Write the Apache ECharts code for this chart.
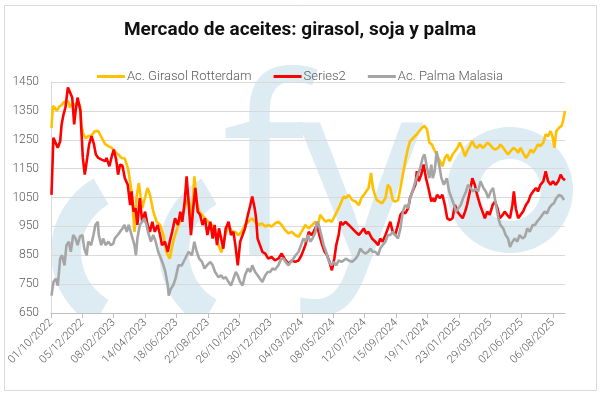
<!DOCTYPE html>
<html><head><meta charset="utf-8">
<script src="https://cdn.jsdelivr.net/npm/echarts@6/dist/echarts.min.js"></script>
<style>html,body{margin:0;padding:0;background:#fff}#c{width:600px;height:394px}</style>
</head><body><div id="c"></div>
<script>
// Day offsets counted from 01/10/2022
const startDate = Date.UTC(2022, 9, 1);
const seriesNames = ['Ac. Girasol Rotterdam', 'Series2', 'Ac. Palma Malasia'];
const titleText = 'Mercado de aceites: girasol, soja y palma';

const girasolDays = [1,4,8,12,17,22,26,30,36,39,44,50,55,60,63,67,72,77,84,91,98,105,112,119,126,132,139,146,153,160,167,173,177,182,189,195,200,205,212,219,226,233,239,246,253,257,264,271,278,285,292,297,302,307,313,319,326,333,340,347,353,361,368,375,382,388,395,402,409,416,423,430,437,444,451,457,464,471,478,485,492,499,506,513,519,527,534,541,548,553,558,563,569,575,582,589,596,602,606,611,617,624,631,638,643,648,653,658,663,667,671,675,680,686,693,698,703,708,713,719,724,729,734,740,744,751,758,763,769,774,779,784,789,792,799,806,811,816,821,826,832,837,842,847,852,858,862,868,873,878,883,889,894,899,904,909,915,920,927,931,937,942,947,952,958,963,968,973,978,984,989,994,999,1005,1009,1014,1020,1025,1030,1035,1039,1043,1047,1053,1058,1061,1065];
const girasolValues = [1290,1367,1360,1350,1365,1370,1380,1383,1383,1362,1375,1370,1380,1370,1300,1270,1255,1262,1265,1280,1280,1257,1235,1228,1222,1210,1200,1187,1185,1147,1070,931,1048,1100,1013,1050,1083,1060,1001,966,955,920,862,838,896,920,955,978,1020,1048,978,1123,1036,1001,990,978,966,955,920,885,860,920,955,931,931,920,931,955,966,978,966,955,960,949,955,949,960,966,955,937,926,931,920,914,931,955,943,955,966,955,990,978,966,972,966,990,1013,1036,1053,1048,1059,1041,1036,1024,1048,1059,1071,1083,1135,1083,1059,1041,1036,1030,1048,1094,1083,1041,1036,1040,1083,1129,1176,1222,1245,1257,1269,1280,1292,1298,1286,1240,1234,1222,1199,1176,1158,1187,1199,1176,1199,1210,1222,1240,1222,1193,1210,1228,1245,1228,1222,1234,1222,1228,1240,1234,1222,1216,1222,1234,1222,1210,1199,1210,1222,1216,1205,1222,1205,1187,1199,1216,1205,1222,1234,1228,1240,1269,1262,1280,1262,1222,1280,1292,1298,1315,1350];

const sojaDays = [1,5,8,14,19,22,26,30,35,37,41,44,48,51,55,58,61,63,66,70,75,79,84,89,93,98,105,112,115,121,126,130,135,139,143,148,153,159,164,167,171,175,179,184,189,195,200,205,210,215,221,226,230,236,242,246,251,257,263,268,272,277,281,285,290,294,299,304,309,314,319,324,330,335,339,344,348,357,362,368,373,378,382,387,392,397,402,408,413,417,422,425,428,433,438,444,450,457,464,471,478,485,492,499,506,513,519,527,534,540,544,551,556,562,567,572,577,582,587,591,596,600,604,610,617,624,631,638,643,648,653,658,665,672,678,682,687,693,698,703,708,713,719,724,729,734,740,744,749,755,758,762,767,772,777,782,788,791,795,800,806,811,816,821,827,832,837,842,847,853,858,862,868,873,878,883,889,894,899,904,909,915,920,925,930,936,940,945,951,956,959,963,968,973,978,984,989,994,999,1005,1009,1014,1020,1025,1030,1035,1040,1046,1051,1056,1060,1065];
const sojaValues = [1059,1257,1251,1222,1245,1303,1338,1362,1431,1437,1408,1396,1303,1350,1396,1390,1350,1280,1187,1129,1187,1234,1263,1234,1199,1187,1181,1176,1187,1158,1193,1216,1181,1129,1164,1160,1117,1094,1024,1071,1001,1013,955,1048,966,1001,955,931,966,931,955,920,885,897,862,897,931,978,955,1001,966,1036,1123,1036,920,1001,1083,1001,990,955,978,920,966,908,955,885,943,873,943,966,920,931,885,815,897,920,943,990,1024,1053,1013,978,908,885,862,856,838,844,832,838,856,835,821,832,827,832,850,885,931,920,931,955,920,885,862,850,827,798,838,885,920,966,955,966,955,943,931,920,931,943,925,931,908,897,885,908,897,920,943,966,931,920,955,990,1001,995,1013,1048,1071,1094,1141,1106,1129,1164,1117,1083,1036,1048,1036,1059,1048,1059,1024,978,972,978,1024,1001,990,978,1001,1024,1071,1117,1094,1059,1024,1001,978,1001,990,1024,1036,1013,978,990,1001,990,978,1024,1071,1013,978,990,1001,1024,1036,1059,1071,1083,1071,1094,1106,1141,1106,1094,1106,1094,1106,1129,1117,1110];

const palmaDays = [1,5,10,14,19,23,28,32,37,41,46,51,55,60,65,69,74,77,83,88,92,97,99,104,108,113,119,124,129,132,138,143,148,152,157,161,167,173,176,179,184,189,193,198,201,207,212,217,222,228,233,237,242,244,248,253,258,264,271,278,285,292,297,302,307,313,318,323,330,335,340,347,353,357,362,368,373,378,383,387,392,397,402,408,413,417,423,428,433,438,444,449,454,459,464,471,477,482,486,492,497,502,507,513,518,523,527,533,537,542,548,551,555,560,565,570,575,581,586,591,596,602,606,611,617,624,631,636,641,646,651,657,662,666,672,678,682,687,693,698,703,708,713,719,724,729,734,740,744,749,755,760,765,770,774,779,784,788,791,795,799,804,809,814,820,825,830,835,839,844,849,854,860,864,869,875,880,885,890,896,901,906,911,916,922,927,931,937,942,947,951,956,961,966,971,977,982,987,992,998,1003,1007,1013,1018,1023,1028,1032,1037,1042,1047,1053,1058,1063];
const palmaValues = [710,757,769,745,838,850,815,885,897,862,920,908,885,915,920,873,850,897,885,920,955,966,920,885,908,885,897,885,890,908,920,931,943,955,931,955,920,885,850,908,955,966,978,955,931,897,920,897,862,838,815,792,745,710,733,745,769,815,815,838,862,850,897,862,838,827,804,815,827,815,792,774,780,769,774,757,745,769,792,780,757,745,781,804,792,815,792,781,769,757,781,792,792,804,800,815,838,838,827,815,827,838,850,862,885,908,897,920,897,908,931,966,955,920,885,862,832,815,827,815,832,827,832,838,832,827,838,850,873,862,856,862,873,862,862,850,873,885,897,920,920,931,920,908,943,1001,1024,1013,1048,1071,1106,1129,1152,1187,1199,1152,1117,1164,1117,1141,1210,1164,1117,1094,1117,1071,1048,1024,1001,1013,1024,1048,1071,1094,1083,1071,1080,1071,1106,1083,1071,1048,1071,1083,1024,978,955,943,920,908,879,897,908,897,920,908,915,943,931,955,955,966,978,990,1001,995,1013,1024,1030,1048,1059,1055,1041];

const yTicks = {min: 650, max: 1450, step: 100};
const xTicks = {min: 0, max: 1065, step: 65};

function zip(d, v) { return d.map((x, i) => [x, v[i]]); }
function fmtDate(day) {
  const dt = new Date(startDate + day * 86400000);
  const dd = String(dt.getUTCDate()).padStart(2, '0');
  const mm = String(dt.getUTCMonth() + 1).padStart(2, '0');
  return dd + '/' + mm + '/' + dt.getUTCFullYear();
}

const wm = '#dcecf2';
const chart = echarts.init(document.getElementById('c'), null, {renderer: 'canvas'});
chart.setOption({
  backgroundColor: '#fff',
  animation: false,
  title: {
    text: titleText, left: 'center', top: 16,
    textStyle: {fontFamily: 'Roboto, sans-serif', fontWeight: 'bold', fontSize: 19, color: '#111'}
  },
  legend: {
    top: 65, left: 'center', itemWidth: 28, itemHeight: 3, itemGap: 22, icon: 'rect',
    textStyle: {fontFamily: 'Roboto, sans-serif', fontWeight: 300, fontSize: 13, color: '#595959', padding: [0, 0, 0, -3]},
    data: seriesNames
  },
  graphic: [
    {type: 'rect', z: -20, silent: true, shape: {x: 4.5, y: 5.5, width: 592, height: 385}, style: {fill: '#fff', stroke: '#d9d9d9', lineWidth: 1}},
    {type: 'arc', z: -10, silent: true, shape: {cx: 136, cy: 252, r: 70, startAngle: Math.PI * 2 / 3, endAngle: Math.PI * 4 / 3}, style: {stroke: wm, lineWidth: 30, fill: null}},
    {type: 'arc', z: -10, silent: true, shape: {cx: 244, cy: 252, r: 70, startAngle: Math.PI * 2 / 3, endAngle: Math.PI * 4 / 3}, style: {stroke: wm, lineWidth: 30, fill: null}},
    {type: 'text', z: -10, silent: true, left: 222, top: 60, style: {text: 'f', fill: wm, fontSize: 250, fontFamily: 'Open Sans', fontWeight: 'normal'}},
    {type: 'text', z: -10, silent: true, left: 298, top: 60, style: {text: 'y', fill: wm, fontSize: 250, fontFamily: 'Open Sans', fontWeight: 'normal'}},
    {type: 'ring', z: -10, silent: true, shape: {cx: 510, cy: 190, r: 63, r0: 31}, style: {fill: wm}},
    {type: 'rect', z: -5, silent: true, shape: {x: 5, y: 313, width: 591, height: 77}, style: {fill: '#fff'}}
  ],
  grid: {left: 51, right: 35, top: 82, bottom: 81},
  xAxis: {
    type: 'value', min: xTicks.min, max: xTicks.max, interval: xTicks.step,
    axisLine: {show: true, lineStyle: {color: '#bfbfbf', width: 1}},
    axisTick: {show: true, length: 5, lineStyle: {color: '#bfbfbf'}},
    splitLine: {show: false},
    axisLabel: {
      rotate: 45, margin: 8, fontFamily: 'Roboto, sans-serif', fontWeight: 300, fontSize: 11, color: '#595959',
      showMaxLabel: false,
      formatter: v => (v % xTicks.step === 0 ? fmtDate(v) : '')
    }
  },
  yAxis: {
    type: 'value', min: yTicks.min, max: yTicks.max, interval: yTicks.step,
    axisLine: {show: true, lineStyle: {color: '#d9d9d9'}},
    axisTick: {show: false},
    splitLine: {show: true, lineStyle: {color: '#d9d9d9', width: 1}},
    axisLabel: {margin: 12, fontFamily: 'Roboto, sans-serif', fontWeight: 300, fontSize: 12, color: '#595959', formatter: v => String(v)}
  },
  series: [
    {name: seriesNames[0], type: 'line', data: zip(girasolDays, girasolValues), showSymbol: false, symbol: 'none', lineStyle: {color: '#FFC000', width: 2.6}, itemStyle: {color: '#FFC000'}},
    {name: seriesNames[1], type: 'line', data: zip(sojaDays, sojaValues), showSymbol: false, symbol: 'none', lineStyle: {color: '#FF0000', width: 2.6}, itemStyle: {color: '#FF0000'}},
    {name: seriesNames[2], type: 'line', data: zip(palmaDays, palmaValues), showSymbol: false, symbol: 'none', lineStyle: {color: '#A5A5A5', width: 2.6}, itemStyle: {color: '#A5A5A5'}}
  ]
});
</script></body></html>
